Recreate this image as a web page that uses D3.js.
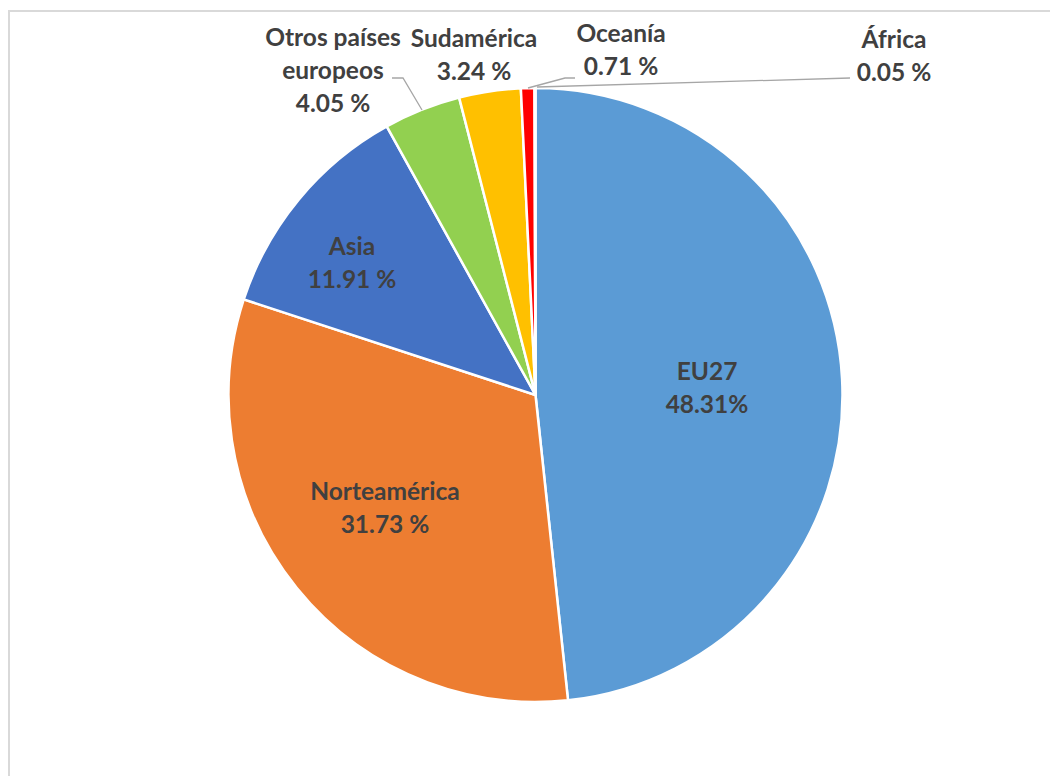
<!DOCTYPE html>
<html>
<head>
<meta charset="utf-8">
<script src="https://cdn.jsdelivr.net/npm/d3@7"></script>
<style>
  html, body { margin: 0; padding: 0; background: #fff; }
  svg { display: block; }
</style>
</head>
<body>
<svg id="chart" width="1050" height="776"></svg>
<script>
// Share by region (%)
const categories = ["EU27", "Norteamérica", "Asia", "Otros países europeos", "Sudamérica", "Oceanía", "África"];
const values = [48.31, 31.73, 11.91, 4.05, 3.24, 0.71, 0.05];
const valueLabels = ["48.31%", "31.73 %", "11.91 %", "4.05 %", "3.24 %", "0.71 %", "0.05 %"];
const nameLines = [["EU27"], ["Norteamérica"], ["Asia"], ["Otros países", "europeos"], ["Sudamérica"], ["Oceanía"], ["África"]];
const colors = ["#5B9BD5", "#ED7D31", "#4472C4", "#92D050", "#FFC000", "#FF0000", "#70AD47"];

const svg = d3.select("#chart");

// chart frame
svg.append("rect")
  .attr("x", 9).attr("y", 11)
  .attr("width", 1060).attr("height", 800)
  .attr("fill", "#fff")
  .attr("stroke", "#d9d9d9").attr("stroke-width", 2);

const cx = 535.5, cy = 395, R = 307;

const pie = d3.pie().sort(null).value(d => d)
  .startAngle(0).endAngle(2 * Math.PI);
const arcs = pie(values);
const arc = d3.arc().innerRadius(0).outerRadius(R);

const g = svg.append("g").attr("transform", `translate(${cx},${cy})`);

g.selectAll("path.slice")
  .data(arcs)
  .join("path")
  .attr("class", "slice")
  .attr("d", arc)
  .attr("fill", (d, i) => colors[i])
  .attr("stroke", "#fff")
  .attr("stroke-width", 2.5)
  .attr("stroke-linejoin", "round");

// label anchor (centre of the text block) and line spacing
const labelPos = [
  { x: 707, y: 386 },
  { x: 385, y: 506 },
  { x: 352, y: 261 },
  { x: 333, y: 69 },
  { x: 474, y: 53 },
  { x: 621, y: 48 },
  { x: 894, y: 54 }
];
const lineH = 33;

// leader lines for the small outer slices
const leaders = {
  3: [[392, 78], [403, 78], [422, 110]],
  5: [[528, 88], [565, 78], [575, 78]],
  6: [[537, 87], [850, 78]]
};
Object.entries(leaders).forEach(([i, pts]) => {
  svg.append("path")
    .attr("d", d3.line()(pts))
    .attr("fill", "none")
    .attr("stroke", "#a6a6a6")
    .attr("stroke-width", 1.3);
});

const labels = svg.append("g")
  .attr("font-family", "Lato, 'Open Sans', sans-serif")
  .attr("font-weight", "bold")
  .attr("font-size", 24.5)
  .attr("fill", "#404040")
  .attr("text-anchor", "middle");

categories.forEach((c, i) => {
  const lines = nameLines[i].concat([valueLabels[i]]);
  const p = labelPos[i];
  const top = p.y - (lines.length - 1) * lineH / 2;
  const t = labels.append("text").attr("x", p.x).attr("y", top).attr("dominant-baseline", "central");
  lines.forEach((s, k) => {
    t.append("tspan").attr("x", p.x).attr("y", top + k * lineH).text(s);
  });
});
</script>
</body>
</html>
